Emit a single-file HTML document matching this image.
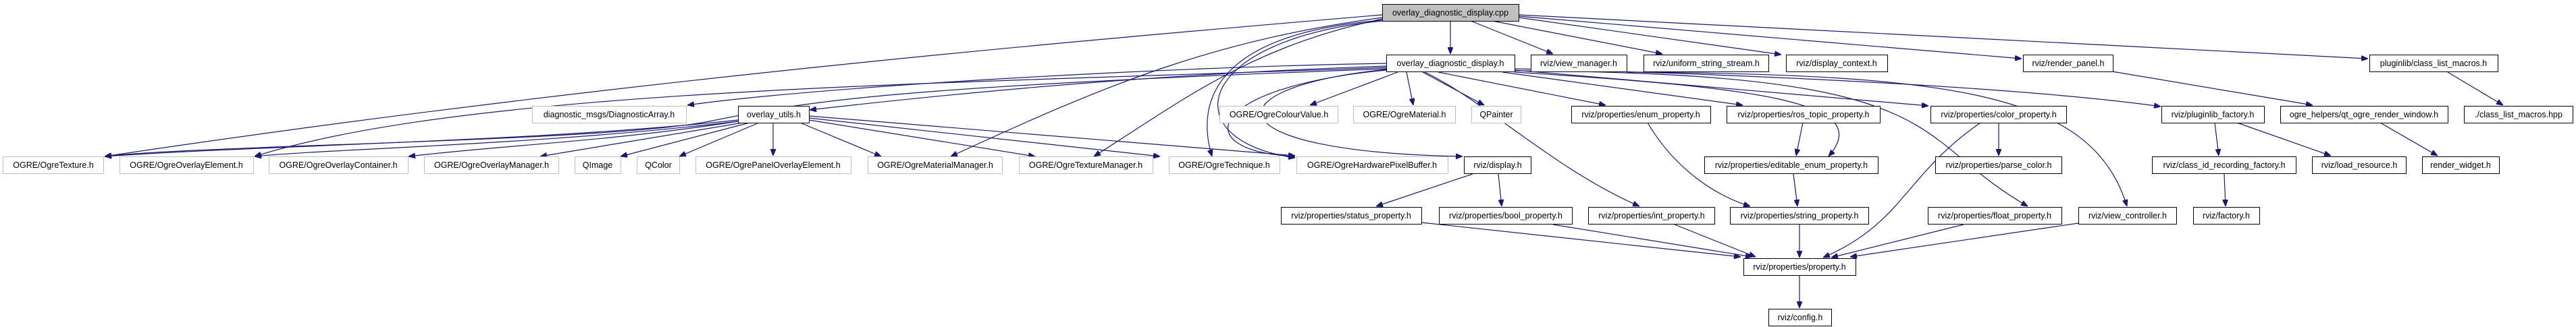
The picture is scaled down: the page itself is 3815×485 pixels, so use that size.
<!DOCTYPE html>
<html><head><meta charset="utf-8"><style>
html,body{margin:0;padding:0;background:#fff;}
svg{display:block;}
text{font-family:"Liberation Sans",Arial,sans-serif;font-size:12.5px;fill:#000;}
.e{fill:none;stroke:#191970;stroke-width:1.2;}
.b{fill:#fff;stroke:#000;stroke-width:1;}
.g{fill:#fff;stroke:#bfbfbf;stroke-width:1;}
</style></head><body>
<svg width="3815" height="485" viewBox="0 0 3815 485" xmlns="http://www.w3.org/2000/svg">
<defs>
<marker id="a" viewBox="0 0 10 8" refX="10" refY="4" markerWidth="10" markerHeight="8" markerUnits="userSpaceOnUse" orient="auto">
<path d="M0,0 L10,4 L0,8 z" fill="#191970" stroke="#191970"/>
</marker>
</defs>
<g class="e" marker-end="url(#a)">
<!-- cpp edges -->
<path d="M2148,31 L2148,80"/>
<path d="M2178,31 L2300,80"/>
<path d="M2210,31 L2462,80"/>
<path d="M2249,26 L2638,81"/>
<path d="M2249,24 L2994,87"/>
<path d="M2249,22 L3507,87"/>
<path d="M2047,22 C1600,60 900,120 155,232"/>
<path d="M2047,26 C1800,60 1650,120 1408,232"/>
<path d="M2047,28 C1850,70 1750,150 1620,232"/>
<path d="M2047,30 C1800,50 1770,150 1795,232"/>
<path d="M2047,31 C1760,60 1740,210 1918,234"/>
<!-- odd.h edges -->
<path d="M2053,94 C1700,100 1200,130 1018,156"/>
<path d="M2053,98 C1700,110 1400,140 1199,163"/>
<path d="M2053,100 C1400,125 700,130 377,232"/>
<path d="M2053,102 C1300,130 1200,150 1050,180 C900,210 300,215 155,232"/>
<path d="M2053,104 C1780,130 1760,225 1918,232"/>
<path d="M2070,107 L1940,156"/>
<path d="M2083,107 L2093,156"/>
<path d="M2107,107 L2198,156"/>
<path d="M2130,107 L2378,156"/>
<path d="M2225,107 L2581,156"/>
<path d="M2110,107 C2200,150 2300,250 2428,306"/>
<path d="M2053,103 C1790,130 1790,225 2166,232"/>
<path d="M2243,107 C2600,130 2780,150 2708,232"/>
<path d="M2243,104 L2856,157"/>
<path d="M2243,102 C2600,110 3000,130 3200,158"/>
<path d="M2243,105 C2900,108 2820,200 3003,306"/>
<path d="M2409,107 C2900,110 3100,140 3150,306"/>
<!-- overlay_utils edges -->
<path d="M1093,178 C800,210 400,215 155,232"/>
<path d="M1093,180 C800,215 500,220 377,232"/>
<path d="M1093,180 C900,210 750,215 605,232"/>
<path d="M1100,182 L800,232"/>
<path d="M1110,182 L919,232"/>
<path d="M1124,182 L1006,232"/>
<path d="M1145,182 L1145,231"/>
<path d="M1185,182 L1305,232"/>
<path d="M1198,178 L1533,232"/>
<path d="M1198,175 L1718,232"/>
<path d="M1198,172 L1918,231"/>
<!-- lower edges -->
<path d="M2181,258 L2038,306"/>
<path d="M2219,258 L2224,306"/>
<path d="M2440,182 C2480,250 2540,290 2592,306"/>
<path d="M2670,182 L2660,231"/>
<path d="M2656,258 L2662,306"/>
<path d="M2960,182 L2960,231"/>
<path d="M2933,182 C2820,260 2820,330 2700,382"/>
<path d="M2665,333 L2665,382"/>
<path d="M2105,330 L2578,381"/>
<path d="M2300,333 L2595,381"/>
<path d="M2480,333 L2600,381" />
<path d="M2908,333 L2712,382"/>
<path d="M3078,331 L2740,381"/>
<path d="M2665,408 L2665,457"/>
<path d="M3280,182 L3286,231"/>
<path d="M3313,182 L3452,231"/>
<path d="M3294,258 L3296,306"/>
<path d="M3128,106 L3425,156"/>
<path d="M3525,182 L3610,231"/>
<path d="M3625,107 L3707,156"/>
</g>
<g>
<rect x="2047.5" y="6.5" width="202" height="25" fill="#bfbfbf" stroke="#000"/>
<text x="2148" y="23" text-anchor="middle">overlay_diagnostic_display.cpp</text>
<rect class="b" x="2053.5" y="81.5" width="190" height="25"/><text x="2148" y="98" text-anchor="middle">overlay_diagnostic_display.h</text>
<rect class="b" x="2267.5" y="81.5" width="142" height="25"/><text x="2338" y="98" text-anchor="middle">rviz/view_manager.h</text>
<rect class="b" x="2434.5" y="81.5" width="185" height="25"/><text x="2527" y="98" text-anchor="middle">rviz/uniform_string_stream.h</text>
<rect class="b" x="2645.5" y="81.5" width="150" height="25"/><text x="2720" y="98" text-anchor="middle">rviz/display_context.h</text>
<rect class="b" x="2996.5" y="81.5" width="133" height="25"/><text x="3063" y="98" text-anchor="middle">rviz/render_panel.h</text>
<rect class="b" x="3509.5" y="81.5" width="190" height="25"/><text x="3604" y="98" text-anchor="middle">pluginlib/class_list_macros.h</text>
<rect class="g" x="788.5" y="157.5" width="228" height="25"/><text x="902" y="174" text-anchor="middle">diagnostic_msgs/DiagnosticArray.h</text>
<rect class="b" x="1093.5" y="157.5" width="105" height="25"/><text x="1146" y="174" text-anchor="middle">overlay_utils.h</text>
<rect class="g" x="1806.5" y="157.5" width="175" height="25"/><text x="1894" y="174" text-anchor="middle">OGRE/OgreColourValue.h</text>
<rect class="g" x="2004.5" y="157.5" width="151" height="25"/><text x="2080" y="174" text-anchor="middle">OGRE/OgreMaterial.h</text>
<rect class="g" x="2179.5" y="157.5" width="73" height="25"/><text x="2216" y="174" text-anchor="middle">QPainter</text>
<rect class="b" x="2327.5" y="157.5" width="206" height="25"/><text x="2430" y="174" text-anchor="middle">rviz/properties/enum_property.h</text>
<rect class="b" x="2557.5" y="157.5" width="227" height="25"/><text x="2671" y="174" text-anchor="middle">rviz/properties/ros_topic_property.h</text>
<rect class="b" x="2859.5" y="157.5" width="201" height="25"/><text x="2960" y="174" text-anchor="middle">rviz/properties/color_property.h</text>
<rect class="b" x="3201.5" y="157.5" width="152" height="25"/><text x="3277" y="174" text-anchor="middle">rviz/pluginlib_factory.h</text>
<rect class="b" x="3377.5" y="157.5" width="248" height="25"/><text x="3501" y="174" text-anchor="middle">ogre_helpers/qt_ogre_render_window.h</text>
<rect class="b" x="3649.5" y="157.5" width="161" height="25"/><text x="3730" y="174" text-anchor="middle">./class_list_macros.hpp</text>
<rect class="g" x="4.5" y="232.5" width="149" height="25"/><text x="79" y="249" text-anchor="middle">OGRE/OgreTexture.h</text>
<rect class="g" x="177.5" y="232.5" width="198" height="25"/><text x="276" y="249" text-anchor="middle">OGRE/OgreOverlayElement.h</text>
<rect class="g" x="398.5" y="232.5" width="206" height="25"/><text x="501" y="249" text-anchor="middle">OGRE/OgreOverlayContainer.h</text>
<rect class="g" x="628.5" y="232.5" width="199" height="25"/><text x="728" y="249" text-anchor="middle">OGRE/OgreOverlayManager.h</text>
<rect class="g" x="851.5" y="232.5" width="68" height="25"/><text x="885" y="249" text-anchor="middle">QImage</text>
<rect class="g" x="943.5" y="232.5" width="63" height="25"/><text x="975" y="249" text-anchor="middle">QColor</text>
<rect class="g" x="1030.5" y="232.5" width="230" height="25"/><text x="1145" y="249" text-anchor="middle">OGRE/OgrePanelOverlayElement.h</text>
<rect class="g" x="1285.5" y="232.5" width="199" height="25"/><text x="1385" y="249" text-anchor="middle">OGRE/OgreMaterialManager.h</text>
<rect class="g" x="1509.5" y="232.5" width="198" height="25"/><text x="1608" y="249" text-anchor="middle">OGRE/OgreTextureManager.h</text>
<rect class="g" x="1731.5" y="232.5" width="164" height="25"/><text x="1813" y="249" text-anchor="middle">OGRE/OgreTechnique.h</text>
<rect class="g" x="1920.5" y="232.5" width="224" height="25"/><text x="2032" y="249" text-anchor="middle">OGRE/OgreHardwarePixelBuffer.h</text>
<rect class="b" x="2168.5" y="232.5" width="99" height="25"/><text x="2218" y="249" text-anchor="middle">rviz/display.h</text>
<rect class="b" x="2524.5" y="232.5" width="257" height="25"/><text x="2653" y="249" text-anchor="middle">rviz/properties/editable_enum_property.h</text>
<rect class="b" x="2866.5" y="232.5" width="187" height="25"/><text x="2960" y="249" text-anchor="middle">rviz/properties/parse_color.h</text>
<rect class="b" x="3187.5" y="232.5" width="213" height="25"/><text x="3294" y="249" text-anchor="middle">rviz/class_id_recording_factory.h</text>
<rect class="b" x="3424.5" y="232.5" width="139" height="25"/><text x="3494" y="249" text-anchor="middle">rviz/load_resource.h</text>
<rect class="b" x="3587.5" y="232.5" width="114" height="25"/><text x="3644" y="249" text-anchor="middle">render_widget.h</text>
<rect class="b" x="1897.5" y="307.5" width="208" height="25"/><text x="2001" y="324" text-anchor="middle">rviz/properties/status_property.h</text>
<rect class="b" x="2131.5" y="307.5" width="197" height="25"/><text x="2230" y="324" text-anchor="middle">rviz/properties/bool_property.h</text>
<rect class="b" x="2352.5" y="307.5" width="187" height="25"/><text x="2446" y="324" text-anchor="middle">rviz/properties/int_property.h</text>
<rect class="b" x="2562.5" y="307.5" width="205" height="25"/><text x="2665" y="324" text-anchor="middle">rviz/properties/string_property.h</text>
<rect class="b" x="2855.5" y="307.5" width="198" height="25"/><text x="2954" y="324" text-anchor="middle">rviz/properties/float_property.h</text>
<rect class="b" x="3078.5" y="307.5" width="145" height="25"/><text x="3151" y="324" text-anchor="middle">rviz/view_controller.h</text>
<rect class="b" x="3248.5" y="307.5" width="98" height="25"/><text x="3297" y="324" text-anchor="middle">rviz/factory.h</text>
<rect class="b" x="2582.5" y="383.5" width="166" height="25"/><text x="2665" y="400" text-anchor="middle">rviz/properties/property.h</text>
<rect class="b" x="2619.5" y="458.5" width="93" height="25"/><text x="2666" y="475" text-anchor="middle">rviz/config.h</text>
</g>
</svg>
</body></html>
